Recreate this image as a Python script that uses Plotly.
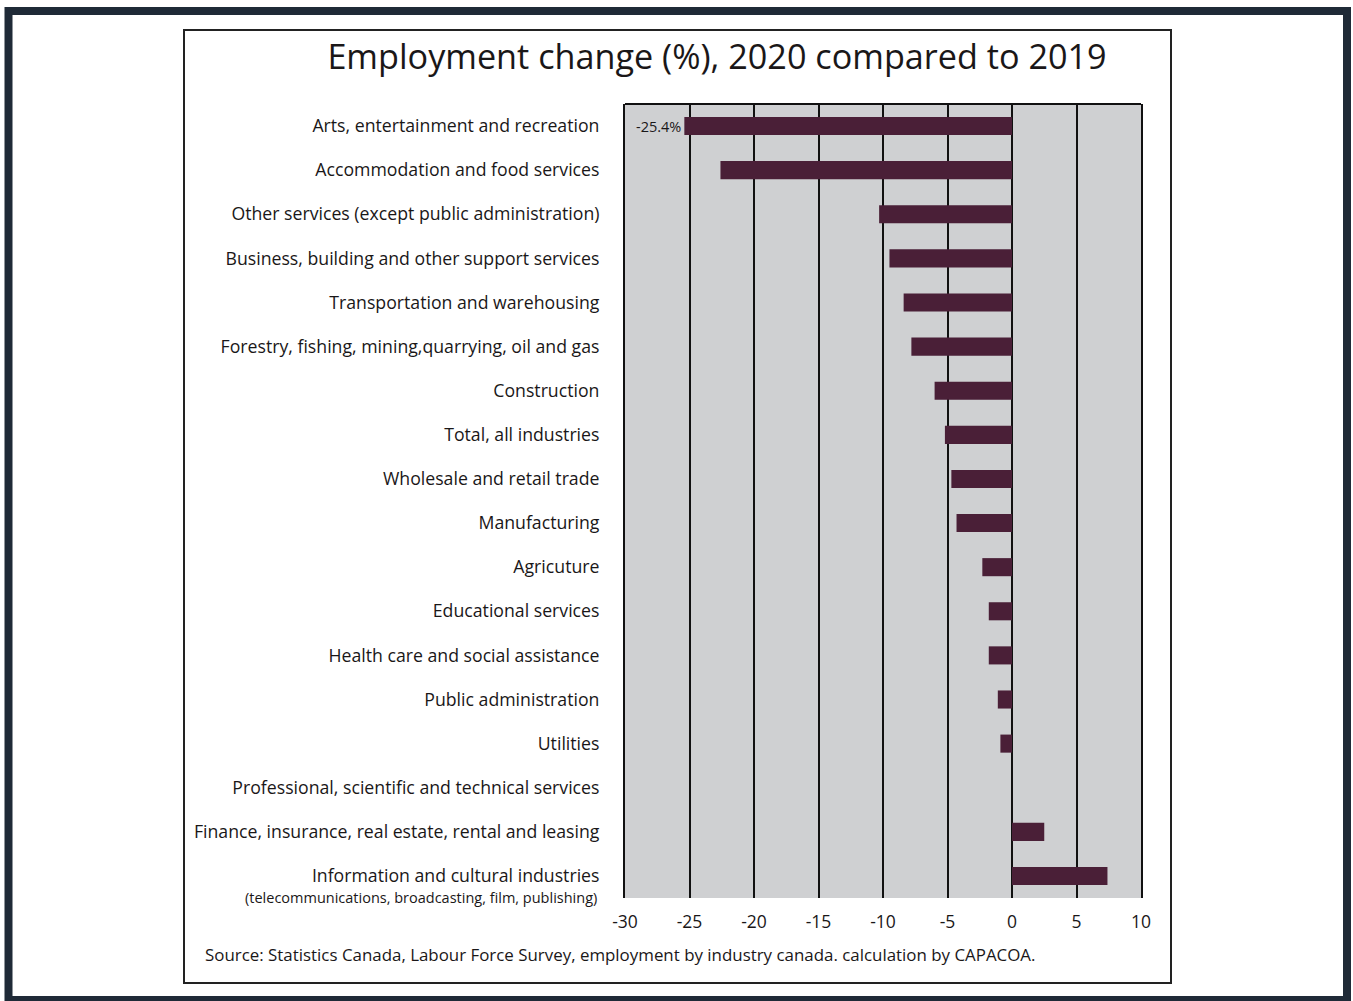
import plotly.graph_objects as go

categories = [
    "Arts, entertainment and recreation",
    "Accommodation and food services",
    "Other services (except public administration)",
    "Business, building and other support services",
    "Transportation and warehousing",
    "Forestry, fishing, mining,quarrying, oil and gas",
    "Construction",
    "Total, all industries",
    "Wholesale and retail trade",
    "Manufacturing",
    "Agricuture",
    "Educational services",
    "Health care and social assistance",
    "Public administration",
    "Utilities",
    "Professional, scientific and technical services",
    "Finance, insurance, real estate, rental and leasing",
    "Information and cultural industries",
]
values = [-25.4, -22.6, -10.3, -9.5, -8.4, -7.8, -6.0, -5.2, -4.7, -4.3,
          -2.3, -1.8, -1.8, -1.1, -0.9, 0.0, 2.5, 7.4]
bar_labels = ["-25.4%"] + [""] * 17
x_ticks = [-30, -25, -20, -15, -10, -5, 0, 5, 10]
title_text = "Employment change (%), 2020 compared to 2019"
source_text = ("Source: Statistics Canada, Labour Force Survey, employment by industry canada. "
               "calculation by CAPACOA.")
sub_label = "(telecommunications, broadcasting, film, publishing)"

W, H = 1353, 1001
L, R, T, B = 625, 1141, 104, 898


def px(x):
    return (x - L) / (R - L)


def py(y):
    return (B - y) / (B - T)


FONT = "Open Sans"
TXT = "#1a1718"
BAR = "#4a1f37"

fig = go.Figure(go.Bar(
    x=values, y=categories, orientation="h",
    marker=dict(color=BAR, line=dict(width=0)),
    width=0.41,
    text=bar_labels, textposition="outside", constraintext="none",
    textfont=dict(family=FONT, size=14.5, color=TXT),
    cliponaxis=False,
))

fig.update_layout(
    width=W, height=H,
    margin=dict(l=L, r=W - R, t=T, b=H - B, pad=0),
    paper_bgcolor="white",
    plot_bgcolor="#cfd0d2",
    showlegend=False,
    font=dict(family=FONT, color=TXT),
    title=dict(text=title_text, xref="container", yref="container",
               x=717 / W, y=1 - 57 / H, xanchor="center", yanchor="middle",
               font=dict(family=FONT, size=34.2, color=TXT)),
    xaxis=dict(range=[-30, 10], tickvals=x_ticks, ticktext=[str(v) for v in x_ticks],
               showgrid=True, gridcolor="#111", gridwidth=2,
               zeroline=True, zerolinecolor="#111", zerolinewidth=2,
               showline=False, ticks="outside", ticklen=8, tickcolor="rgba(0,0,0,0)",
               tickfont=dict(family=FONT, size=17.5, color=TXT)),
    yaxis=dict(categoryorder="array", categoryarray=categories, autorange="reversed",
               showgrid=False, zeroline=False,
               showline=True, mirror=True, linecolor="#111", linewidth=2,
               ticks="", ticklabelstandoff=20,
               tickfont=dict(family=FONT, size=17.7, color=TXT)),
    shapes=[
        dict(type="rect", xref="paper", yref="paper",
             x0=px(8.5), x1=px(1347), y0=py(1000), y1=py(11),
             line=dict(color="#1f2a37", width=8), layer="above"),
        dict(type="rect", xref="paper", yref="paper",
             x0=px(184), x1=px(1171), y0=py(983), y1=py(30),
             line=dict(color="#222", width=2), layer="above"),
        dict(type="line", xref="paper", yref="paper",
             x0=0, x1=1, y0=1, y1=1,
             line=dict(color="#111", width=2), layer="above"),
    ],
    annotations=[
        dict(text=source_text, xref="paper", yref="paper",
             x=px(203), y=py(954), xanchor="left", yanchor="middle",
             showarrow=False, font=dict(family=FONT, size=16.9, color=TXT)),
        dict(text=sub_label, xref="paper", yref="y",
             x=px(599), y=categories[-1], yshift=-22,
             xanchor="right", yanchor="middle",
             showarrow=False, font=dict(family=FONT, size=14.5, color=TXT)),
    ],
)

fig.write_html("out.html", config={"displayModeBar": False},
               post_script="document.body.style.margin='0';document.body.style.overflow='hidden';")
